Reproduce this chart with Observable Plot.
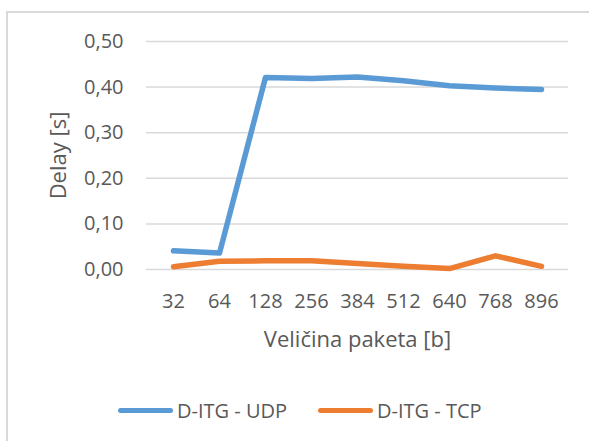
<!DOCTYPE html>
<html><head><meta charset="utf-8">
<script src="https://cdn.jsdelivr.net/npm/d3@7"></script>
<script src="https://cdn.jsdelivr.net/npm/@observablehq/plot@0.6"></script>
<style>
body{margin:0;background:#fff;font-family:"Open Sans",sans-serif;}
#wrap{position:relative;width:589px;height:441px;overflow:hidden;background:#fff;}
#frame{position:absolute;left:6px;top:11px;width:640px;height:480px;border:2px solid #d9d9d9;box-sizing:border-box;}
#chart{position:absolute;left:0;top:0;}
#legend{position:absolute;left:118px;top:395px;height:30px;display:flex;align-items:center;font-size:20px;color:#595959;white-space:nowrap;}
.item{display:flex;align-items:center;margin-right:31px;}
.sw{display:inline-block;width:55px;height:5px;border-radius:3px;margin-right:4px;}
</style></head>
<body>
<div id="wrap"><div id="frame"></div><div id="chart"></div><div id="legend"></div></div>
<script>
const sizes = ["32","64","128","256","384","512","640","768","896"];
const udp = [0.041,0.036,0.421,0.419,0.422,0.414,0.403,0.398,0.395];
const tcp = [0.006,0.018,0.019,0.019,0.013,0.007,0.002,0.030,0.007];
const seriesNames = ["D-ITG - UDP","D-ITG - TCP"];
const seriesColors = ["#5B9BD5","#ED7D31"];
const yTicks = [0,0.1,0.2,0.3,0.4,0.5];
const xTitle = "Veličina paketa [b]";
const yTitle = "Delay [s]";

const data = [];
[udp, tcp].forEach((vals, si) => vals.forEach((v, i) => data.push({size: sizes[i], value: v, series: seriesNames[si]})));
const fmt = d => d.toFixed(2).replace(".", ",");

const chart = Plot.plot({
  width: 589, height: 380,
  marginLeft: 146, marginRight: 21, marginTop: 41, marginBottom: 111,
  style: {fontFamily: "'Open Sans', sans-serif", fontSize: "20px", color: "#595959", background: "transparent", overflow: "visible"},
  x: {type: "point", domain: sizes, padding: 0.5, label: null},
  y: {domain: [0, 0.5], label: null},
  color: {domain: seriesNames, range: seriesColors},
  marks: [
    Plot.gridY(yTicks, {stroke: "#d9d9d9", strokeOpacity: 1, strokeWidth: 1.5}),
    Plot.axisY(yTicks, {tickSize: 0, tickPadding: 23, tickFormat: fmt, fill: "#595959", fontSize: 20, label: null}),
    Plot.axisX(sizes, {tickSize: 0, tickPadding: 24, fill: "#595959", fontSize: 20, label: null}),
    Plot.text([xTitle], {frameAnchor: "bottom", textAnchor: "middle", dy: 77, fontSize: 22, fill: "#595959", text: d => d}),
    Plot.text([yTitle], {frameAnchor: "left", textAnchor: "middle", rotate: -90, dx: -88, fontSize: 22, fill: "#595959", text: d => d}),
    Plot.line(data, {x: "size", y: "value", stroke: "series", z: "series", strokeWidth: 5.5, strokeLinecap: "round", strokeLinejoin: "round"})
  ]
});
document.getElementById("chart").appendChild(chart);

const legend = document.getElementById("legend");
seriesNames.forEach((name, i) => {
  const item = document.createElement("div");
  item.className = "item";
  const sw = document.createElement("span");
  sw.className = "sw";
  sw.style.background = seriesColors[i];
  const t = document.createElement("span");
  t.textContent = name;
  item.appendChild(sw); item.appendChild(t);
  legend.appendChild(item);
});
</script>
</body></html>
